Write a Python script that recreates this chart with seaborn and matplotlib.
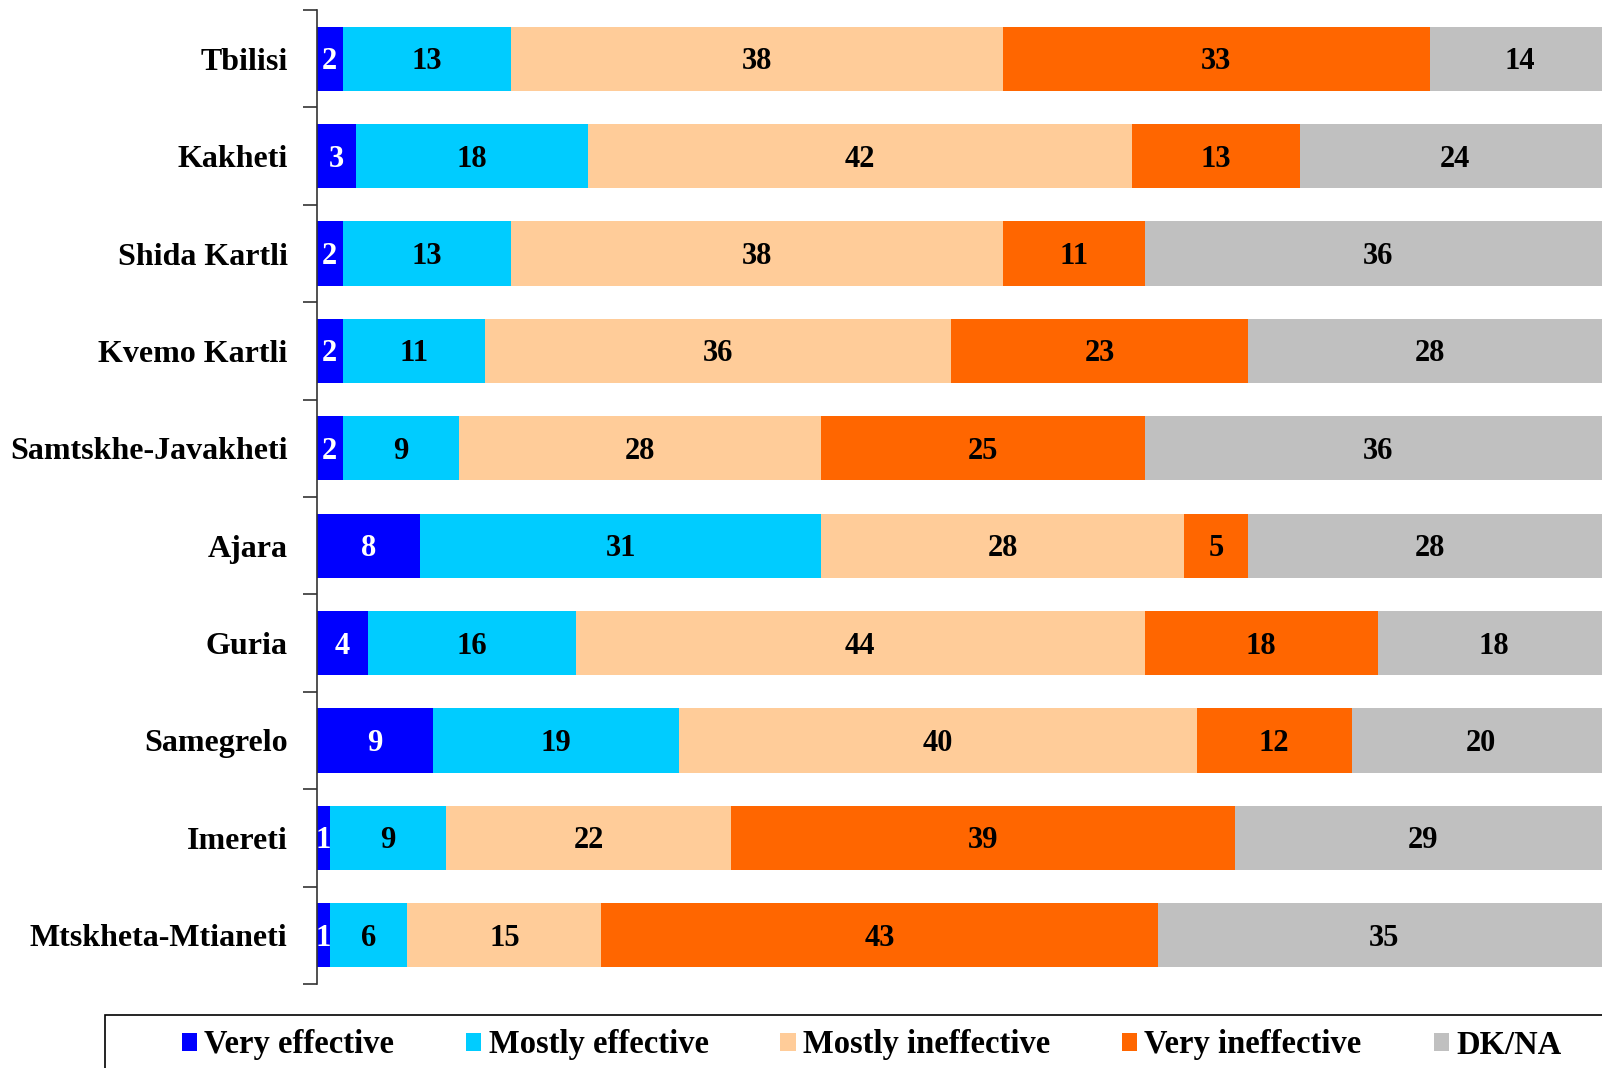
import matplotlib.pyplot as plt
import numpy as np
import pandas as pd
import seaborn as sns
from matplotlib.patches import Patch, Rectangle

regions = ['Tbilisi', 'Kakheti', 'Shida Kartli', 'Kvemo Kartli', 'Samtskhe-Javakheti',
           'Ajara', 'Guria', 'Samegrelo', 'Imereti', 'Mtskheta-Mtianeti']
very_effective = [2, 3, 2, 2, 2, 8, 4, 9, 1, 1]
mostly_effective = [13, 18, 13, 11, 9, 31, 16, 19, 9, 6]
mostly_ineffective = [38, 42, 38, 36, 28, 28, 44, 40, 22, 15]
very_ineffective = [33, 13, 11, 23, 25, 5, 18, 12, 39, 43]
dk_na = [14, 24, 36, 28, 36, 28, 18, 20, 29, 35]

series = ['Very effective', 'Mostly effective', 'Mostly ineffective', 'Very ineffective', 'DK/NA']
colors = ['#0000FF', '#00CCFF', '#FFCC99', '#FF6600', '#C0C0C0']
text_colors = ['white', 'black', 'black', 'black', 'black']

df = pd.DataFrame({'Region': regions, 'Very effective': very_effective,
                   'Mostly effective': mostly_effective, 'Mostly ineffective': mostly_ineffective,
                   'Very ineffective': very_ineffective, 'DK/NA': dk_na})

sns.set_style('white')
plt.rcParams['font.family'] = ['Liberation Serif', 'DejaVu Serif']
plt.rcParams['font.weight'] = 'bold'
plt.rcParams['text.color'] = 'black'
plt.rcParams['ytick.color'] = 'black'

fig = plt.figure(figsize=(16.02, 10.68), dpi=100)
ax = fig.add_axes([0.1977, 0.0787, 0.8023, 0.9119])

# stacked bars: draw cumulative totals from the widest down
cum = df[series].cumsum(axis=1)
for i in range(len(series) - 1, -1, -1):
    sns.barplot(x=cum[series[i]], y=df['Region'], orient='h', color=colors[i],
                saturation=1, width=0.66, ax=ax, linewidth=0)

# value labels in the middle of each segment
for i, s in enumerate(series):
    mids = cum[s] - df[s] / 2
    for j in range(len(regions)):
        ax.text(mids[j], j + 0.03, str(df[s][j]), ha='center', va='center',
                fontsize=22, fontweight='bold', color=text_colors[i])

ax.set_xlim(0, 99.33)
ax.set_ylim(9.5, -0.5)
ax.set_xlabel('')
ax.set_ylabel('')
ax.set_xticks([])
ax.set_yticks(range(len(regions)))
ax.set_yticklabels(regions, fontsize=23, fontweight='bold', color='black')
ax.set_yticks(np.arange(-0.5, len(regions)), minor=True)
ax.tick_params(axis='y', which='major', length=0, pad=21)
ax.tick_params(axis='y', which='minor', length=10, width=1.2, color='#333333', direction='out', left=True)
for side in ['top', 'right', 'bottom']:
    ax.spines[side].set_visible(False)
ax.spines['left'].set_color('#333333')
ax.spines['left'].set_linewidth(1.2)

# legend box (cut off at the figure edge like the original)
fig.add_artist(Rectangle((105 / 1602, -0.1), 1.0, 0.1 + (1068 - 1015) / 1068,
                         transform=fig.transFigure, fill=False, ec='black', lw=1.2))
handles = [Patch(facecolor=c, edgecolor='none') for c in colors]
fig.legend(handles, series, loc='center', bbox_to_anchor=(0.544, 1 - 1045 / 1068), ncol=5,
           frameon=False, handlelength=0.47, handleheight=0.47,
           handletextpad=0.22, columnspacing=2.2, prop={'weight': 'bold', 'size': 23.5})

fig.savefig('out.png', dpi=100)
